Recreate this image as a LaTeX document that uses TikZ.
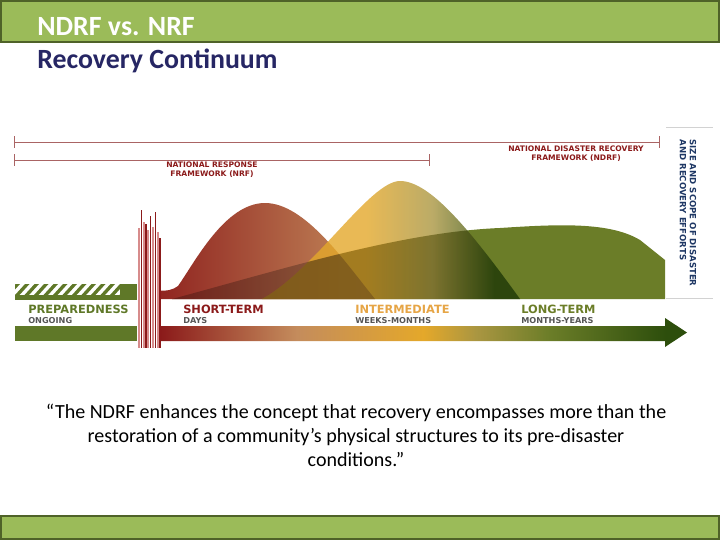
\documentclass[tikz,border=0pt]{standalone}
\usepackage{fontspec}
\setmainfont{Carlito}
\newfontfamily\labelfont{DejaVu Sans}
\usetikzlibrary{arrows.meta}
\definecolor{barfill}{RGB}{155,187,89}
\definecolor{barline}{RGB}{79,98,40}
\definecolor{navy}{RGB}{38,38,100}
\definecolor{prepgreen}{RGB}{95,120,40}
\definecolor{nrfred}{RGB}{139,26,26}
\definecolor{tan}{RGB}{196,140,92}
\definecolor{gold}{RGB}{228,168,42}
\definecolor{labelgold}{RGB}{230,165,70}
\definecolor{khaki}{RGB}{170,150,65}
\definecolor{olive}{RGB}{107,125,40}
\definecolor{forest}{RGB}{45,78,12}
\definecolor{brownleft}{RGB}{125,60,30}
\definecolor{spanred}{RGB}{170,100,100}
\definecolor{subgray}{RGB}{85,85,85}
\definecolor{sizeblue}{RGB}{30,55,100}
\definecolor{pink}{RGB}{215,140,140}
\pgfdeclarehorizontalshading{timeline}{100bp}{color(0bp)=(nrfred); color(25bp)=(nrfred); color(38bp)=(tan); color(50bp)=(gold); color(55bp)=(khaki); color(62bp)=(olive); color(73bp)=(forest); color(100bp)=(forest)}
\pgfdeclarehorizontalshading{midbell}{100bp}{color(0bp)=(gold); color(45bp)=(gold); color(58bp)=(khaki); color(70bp)=(forest); color(100bp)=(forest)}
\pgfdeclarehorizontalshading{longbell}{100bp}{color(0bp)=(brownleft); color(25bp)=(brownleft); color(50bp)=(olive); color(100bp)=(olive)}
\def\longpath{(172,299) .. controls (280,270) and (400,232) .. (500,228) .. controls (560,224) and (610,222) .. (640,240) -- (665,260) -- (665,299) -- cycle}
\def\shortpath{(138,299) -- (138,284) .. controls (150,291) and (168,294) .. (178,286) .. controls (195,262) and (225,203) .. (265,203) .. controls (305,203) and (345,262) .. (375,299) -- cycle}
\def\midpath{(262,299) .. controls (315,270) and (370,181) .. (400,181) .. controls (430,181) and (470,230) .. (520,299) -- cycle}

\begin{document}
\begin{tikzpicture}[x=0.025cm, y=-0.025cm,
  slidetitle/.style={anchor=base west, inner sep=0, font=\bfseries\fontsize{19.8}{24}\selectfont},
  fwlabel/.style={anchor=north, inner sep=0, align=center, text=nrfred, font=\labelfont\bfseries\fontsize{5.4}{6.4}\selectfont},
  phase/.style={anchor=base west, inner sep=0, font=\labelfont\bfseries\fontsize{8.1}{9}\selectfont},
  spanlabel/.style={anchor=base west, inner sep=0, text=subgray, font=\labelfont\bfseries\fontsize{5.8}{7}\selectfont},
  spanline/.style={spanred, line width=0.6pt, {Bar[width=8pt]}-{Bar[width=8pt]}},
  bar/.style={fill=barfill, draw=barline, line width=1.6pt}
]
\useasboundingbox (0,0) rectangle (720,540);

\draw[bar] (1,1) rectangle (719,42);
\draw[bar] (1,516) rectangle (719,539);
\node[slidetitle, text=white] (title) at (37,35) {NDRF vs. NRF};
\node[slidetitle, text=navy] (subtitle) at (37,68) {Recovery Continuum};

\coordinate (ndrfL) at (14,142);
\coordinate (ndrfR) at (660,142);
\coordinate (nrfL) at (14,160);
\coordinate (nrfR) at (430,160);
\draw[spanline] (ndrfL) -- (ndrfR);
\draw[spanline] (nrfL) -- (nrfR);
\node[fwlabel] (nrf) at (212,162) {NATIONAL RESPONSE\\FRAMEWORK (NRF)};
\node[fwlabel] (ndrf) at (576,146) {NATIONAL DISASTER RECOVERY\\FRAMEWORK (NDRF)};

\shade[shading=longbell] \longpath;
\shade[left color=nrfred, right color=tan] \shortpath;
\shade[shading=midbell, opacity=0.8] \midpath;
\begin{scope}
  \clip \longpath;
  \fill[black, opacity=0.25] \shortpath;
  \fill[black, opacity=0.2] \midpath;
\end{scope}

\fill[prepgreen] (15,295) rectangle (138,300);
\fill[prepgreen] (120,284) rectangle (138,295);
\begin{scope}
  \clip (15,284) rectangle (120,295);
  \foreach \s in {-1,...,11}
    \fill[prepgreen] ({15+9.5*\s},295) -- ++(4.5,0) -- ++(10,-11) -- ++(-4.5,0) -- cycle;
\end{scope}

\fill[prepgreen] (15,326) rectangle (138,341);
\shade[shading=timeline] (160,326) -- (665,326) -- (665,318) -- (687,332.5) -- (665,347) -- (665,341) -- (160,341) -- cycle;

\fill[white] (137,284) rectangle (161,348);
\foreach \x/\w/\t/\c in {138/2/228/pink, 140.5/1.5/210/nrfred, 142.5/2/222/pink, 145/1.5/224/nrfred, 147/1.5/230/pink, 149.5/1.5/216/nrfred, 151.5/2/227/pink, 154.5/1.5/212/nrfred, 156.5/2/232/pink, 159/1.5/238/nrfred}
  \fill[\c] (\x,\t) rectangle ({\x+\w},348);

\node[phase, text=prepgreen] (prep) at (28,313) {PREPAREDNESS};
\node[spanlabel] (prepspan) at (28,323) {ONGOING};
\node[phase, text=nrfred] (short) at (183,313) {SHORT-TERM};
\node[spanlabel] (shortspan) at (183,323) {DAYS};
\node[phase, text=labelgold] (mid) at (355,313) {INTERMEDIATE};
\node[spanlabel] (midspan) at (355,323) {WEEKS-MONTHS};
\node[phase, text=olive] (long) at (521,313) {LONG-TERM};
\node[spanlabel] (longspan) at (521,323) {MONTHS-YEARS};

\draw[gray!35, line width=0.7pt] (666,127) -- (713,127);
\draw[gray!35, line width=0.7pt] (666,298) -- (713,298);
\node[rotate=-90, align=left, inner sep=0, text=sizeblue, font=\labelfont\bfseries\fontsize{6.1}{7.1}\selectfont] (sizeaxis) at (688,213) {SIZE AND SCOPE OF DISASTER\\AND RECOVERY EFFORTS};

\node[anchor=north, align=center, inner sep=0, font=\fontsize{14.25}{17}\selectfont] (quote) at (356,404) {“The NDRF enhances the concept that recovery encompasses more than the\\restoration of a community’s physical structures to its pre-disaster\\conditions.”};
\end{tikzpicture}
\end{document}
